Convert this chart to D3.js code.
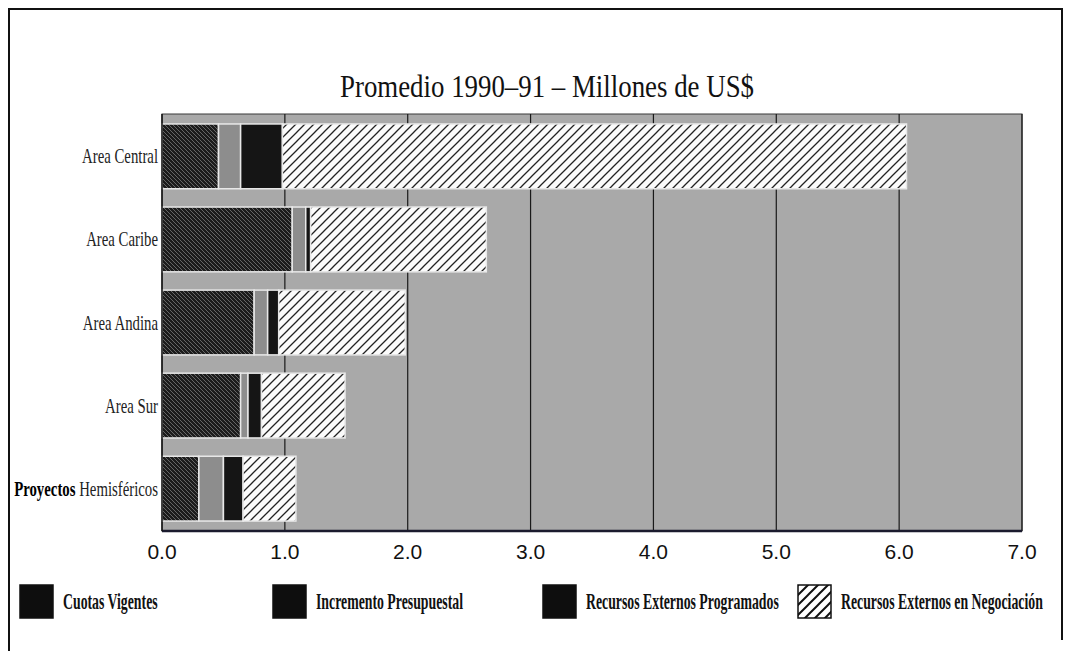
<!DOCTYPE html>
<html>
<head>
<meta charset="utf-8">
<script src="https://cdn.jsdelivr.net/npm/d3@7"></script>
<style>
  body { margin: 0; background: #fff; }
  svg { display: block; }
</style>
</head>
<body>
<div id="app"></div>
<script>
// data (millions of US$, 1990-91 average)
const regions = ['Area Central', 'Area Caribe', 'Area Andina', 'Area Sur', 'Proyectos Hemisféricos'];
const seriesNames = ['Cuotas Vigentes', 'Incremento Presupuestal', 'Recursos Externos Programados', 'Recursos Externos en Negociación'];
const cuotasVigentes = [0.46, 1.06, 0.75, 0.64, 0.30];
const incrementoPresupuestal = [0.18, 0.11, 0.11, 0.06, 0.20];
const externosProgramados = [0.34, 0.04, 0.09, 0.11, 0.16];
const externosNegociacion = [5.08, 1.43, 1.03, 0.68, 0.43];
const xTicks = [0, 1, 2, 3, 4, 5, 6, 7];
const title = 'Promedio 1990–91 – Millones de US$';

const width = 1068, height = 651;
const margin = { top: 114, right: 46, bottom: 120, left: 162 };
const plotW = width - margin.left - margin.right;
const plotH = height - margin.top - margin.bottom;

const svg = d3.select('#app').append('svg')
  .attr('width', width)
  .attr('height', height);

// fill patterns
const defs = svg.append('defs');

const pCuotas = defs.append('pattern')
  .attr('id', 'pCuotas')
  .attr('patternUnits', 'userSpaceOnUse')
  .attr('width', 4).attr('height', 4);
pCuotas.append('rect').attr('width', 4).attr('height', 4).attr('fill', '#1c1c1c');
pCuotas.append('path').attr('d', 'M0,0 L4,4 M-1,3 L1,5 M3,-1 L5,1')
  .attr('stroke', '#6e6e6e').attr('stroke-width', 0.9);

const pNeg = defs.append('pattern')
  .attr('id', 'pNeg')
  .attr('patternUnits', 'userSpaceOnUse')
  .attr('width', 9).attr('height', 9);
pNeg.append('rect').attr('width', 9).attr('height', 9).attr('fill', '#fbfbfb');
pNeg.append('path').attr('d', 'M0,9 L9,0 M-2,2 L2,-2 M7,11 L11,7')
  .attr('stroke', '#222').attr('stroke-width', 1.3);

const pLegNeg = defs.append('pattern')
  .attr('id', 'pLegNeg')
  .attr('patternUnits', 'userSpaceOnUse')
  .attr('width', 10).attr('height', 10);
pLegNeg.append('rect').attr('width', 10).attr('height', 10).attr('fill', '#fff');
pLegNeg.append('path').attr('d', 'M0,10 L10,0 M-2,2 L2,-2 M8,12 L12,8')
  .attr('stroke', '#111').attr('stroke-width', 2);

const fills = ['url(#pCuotas)', '#8d8d8d', '#151515', 'url(#pNeg)'];
const legendFills = ['#0e0e0e', '#0e0e0e', '#0e0e0e', 'url(#pLegNeg)'];

// outer frame
svg.append('path')
  .attr('d', 'M9,651 L9,9 L1062,9 L1062,640')
  .attr('fill', 'none')
  .attr('stroke', '#111')
  .attr('stroke-width', 2);

// title
svg.append('text')
  .attr('x', 547)
  .attr('y', 97)
  .attr('text-anchor', 'middle')
  .attr('font-family', 'Liberation Serif, serif')
  .attr('font-size', 31)
  .attr('fill', '#111')
  .attr('textLength', 414)
  .attr('lengthAdjust', 'spacingAndGlyphs')
  .text(title);

const xScale = d3.scaleLinear()
  .domain([0, 7])
  .range([0, plotW]);

const yScale = d3.scaleBand()
  .domain(regions)
  .range([0, plotH])
  .paddingInner(0.22)
  .paddingOuter(0.12);

const g = svg.append('g')
  .attr('transform', 'translate(' + margin.left + ',' + margin.top + ')');

// plot background
g.append('rect')
  .attr('width', plotW)
  .attr('height', plotH)
  .attr('fill', '#a9a9a9')
  .attr('stroke', '#3a3a3a')
  .attr('stroke-width', 1);

// vertical grid lines
g.selectAll('.grid')
  .data(xTicks.slice(1))
  .enter().append('line')
  .attr('class', 'grid')
  .attr('x1', d => xScale(d)).attr('x2', d => xScale(d))
  .attr('y1', 0).attr('y2', plotH)
  .attr('stroke', '#1a1a1a')
  .attr('stroke-width', 1.2);

// stacked bars
const rows = regions.map((r, i) => ({
  region: r,
  values: [cuotasVigentes[i], incrementoPresupuestal[i], externosProgramados[i], externosNegociacion[i]]
}));
const stack = d3.stack()
  .keys([0, 1, 2, 3])
  .value((d, k) => d.values[k]);
const layers = stack(rows);

g.selectAll('.layer')
  .data(layers)
  .enter().append('g')
  .attr('class', 'layer')
  .attr('fill', d => fills[d.key])
  .selectAll('rect')
  .data(d => d)
  .enter().append('rect')
  .attr('x', d => xScale(d[0]))
  .attr('y', d => yScale(d.data.region))
  .attr('width', d => xScale(d[1]) - xScale(d[0]))
  .attr('height', yScale.bandwidth())
  .attr('stroke', '#e8e8e8')
  .attr('stroke-width', 1.5);

// axes lines
g.append('line')
  .attr('x1', 0).attr('x2', plotW)
  .attr('y1', plotH).attr('y2', plotH)
  .attr('stroke', '#1b1b2e')
  .attr('stroke-width', 2.5);
g.append('line')
  .attr('x1', 0).attr('x2', 0)
  .attr('y1', 0).attr('y2', plotH)
  .attr('stroke', '#111')
  .attr('stroke-width', 1.5);

// x tick labels
g.selectAll('.xtick')
  .data(xTicks)
  .enter().append('text')
  .attr('class', 'xtick')
  .attr('x', d => xScale(d))
  .attr('y', plotH + 28)
  .attr('text-anchor', 'middle')
  .attr('font-family', 'Liberation Sans, Arial, sans-serif')
  .attr('font-size', 21)
  .attr('fill', '#111')
  .text(d => d3.format('.1f')(d));

// category labels (condensed serif)
const labelSel = g.selectAll('.ylab')
  .data(regions)
  .enter().append('g')
  .attr('class', 'ylab')
  .attr('transform', d => 'translate(-4,' + (yScale(d) + yScale.bandwidth() / 2 + 7) + ') scale(0.74,1)')
  .append('text')
  .attr('text-anchor', 'end')
  .attr('font-family', 'Liberation Serif, serif')
  .attr('font-size', 20)
  .attr('fill', '#222');

labelSel.each(function (d) {
  const t = d3.select(this);
  if (d.startsWith('Proyectos')) {
    const parts = d.split(' ');
    t.append('tspan').attr('font-weight', 'bold').attr('fill', '#000').text(parts[0] + ' ');
    t.append('tspan').text(parts[1]);
  } else {
    t.text(d);
  }
});

// legend
const legendX = [20, 273, 543, 798];
const legend = svg.selectAll('.legend')
  .data(seriesNames)
  .enter().append('g')
  .attr('class', 'legend')
  .attr('transform', (d, i) => 'translate(' + legendX[i] + ',585)');

legend.append('rect')
  .attr('width', 33)
  .attr('height', 33)
  .attr('fill', (d, i) => legendFills[i])
  .attr('stroke', '#111')
  .attr('stroke-width', 1.5);

legend.append('g')
  .attr('transform', 'translate(43,24) scale(0.6,1)')
  .append('text')
  .attr('font-family', 'Liberation Serif, serif')
  .attr('font-weight', 'bold')
  .attr('font-size', 23)
  .attr('fill', '#111')
  .text(d => d);
</script>
</body>
</html>
